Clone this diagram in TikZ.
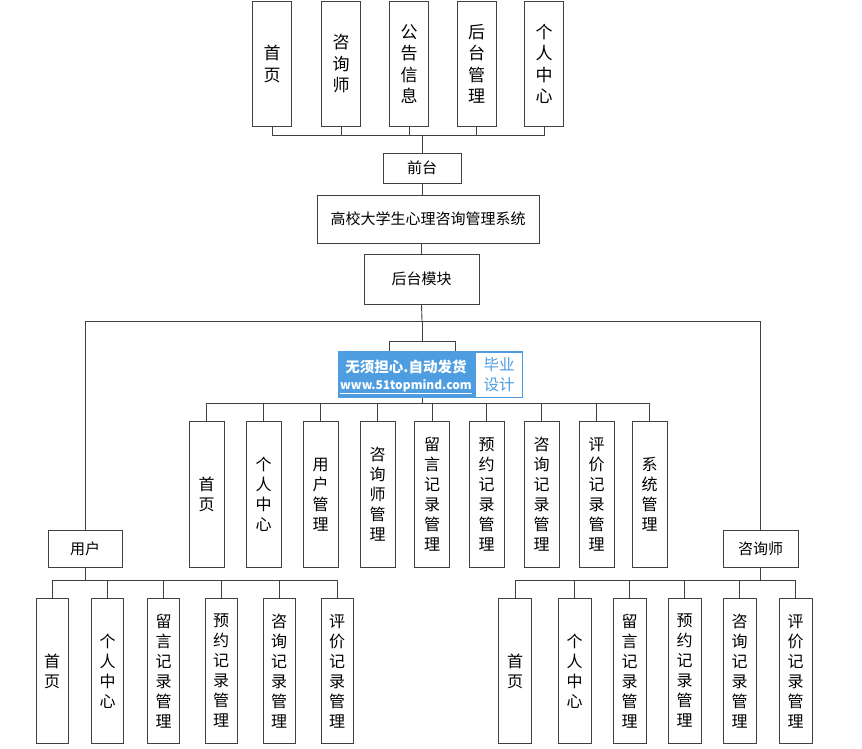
\documentclass[tikz,border=0pt]{standalone}
\usepackage{fontspec}
\newfontfamily\cjk{Noto Sans CJK SC}
\definecolor{wmblue}{RGB}{77,157,224}
\tikzset{%
  box/.style     = {shape=rectangle, draw=black!75, line width=0.9pt,%
                    fill=white, align=center, inner sep=0pt},%
  hbox/.style    = {box, font=\cjk\fontsize{15}{18}\selectfont},%
  topbox/.style  = {box, anchor=north, minimum width=39pt, minimum height=125pt,%
                    font=\cjk\fontsize{17}{21.5}\selectfont},%
  subbox/.style  = {box, anchor=north, minimum width=34pt, minimum height=146pt,%
                    font=\cjk\fontsize{16}{20}\selectfont},%
  link/.style    = {draw=black!75, line width=0.9pt}%
}

\begin{document}
\begin{tikzpicture}[x=1pt,y=-1pt]
\useasboundingbox (0,0) rectangle (862,749);
% front end
\foreach \x/\t [count=\i] in {272/首\\页, 341/咨\\询\\师, 409/公\\告\\信\\息,
    476.5/后\\台\\管\\理, 544/个\\人\\中\\心}
  \node[topbox] (top\i) at (\x,1) {\t};
\node[hbox, minimum width=78pt, minimum height=30pt] (front) at (422,168) {前台};
\node[hbox, minimum width=222pt, minimum height=48pt] (sys) at (428,219) {高校大学生心理咨询管理系统};
\node[hbox, minimum width=115pt, minimum height=50pt] (back) at (421.5,279) {后台模块};
\coordinate (fbus) at (422,135);
\draw[link] (front.north) -- (fbus);
\foreach \i in {1,...,5}
  \draw[link] (fbus) -| (top\i.south);
\draw[link] (front.south) -- (front.south |- sys.north);
\draw[link] (back.north) -- (back.north |- sys.south);
% back end
\node[hbox, minimum width=74pt, minimum height=37pt] (user) at (85,548.5) {用户};
\node[hbox, minimum width=75pt, minimum height=37pt] (couns) at (760.5,548.5) {咨询师};
\node[box, anchor=north, minimum width=66pt, minimum height=44pt] (admin) at (422,341) {};
\coordinate (bbus) at (422,321);
\draw[link] (back.south) -- (bbus);
\draw[link] (bbus) -| (user.north);
\draw[link] (bbus) -| (couns.north);
\draw[link] (bbus) -- (admin.north);
% admin
\foreach \x/\t [count=\i] in {206.5/首\\页, 263.5/个\\人\\中\\心, 320.5/用\\户\\管\\理,
    377.5/咨\\询\\师\\管\\理, 432/留\\言\\记\\录\\管\\理, 486.5/预\\约\\记\\录\\管\\理,
    541.5/咨\\询\\记\\录\\管\\理, 596.5/评\\价\\记\\录\\管\\理, 649.5/系\\统\\管\\理}
  \node[subbox, minimum width=35pt] (a\i) at (\x,421) {\t};
\coordinate (abus) at (422,403);
\draw[link] (admin.south) -- (abus);
\foreach \i in {1,...,9}
  \draw[link] (abus) -| (a\i.north);
% user
\foreach \x/\t [count=\i] in {52/首\\页, 107.5/个\\人\\中\\心, 163.5/留\\言\\记\\录\\管\\理,
    221/预\\约\\记\\录\\管\\理, 279/咨\\询\\记\\录\\管\\理, 337/评\\价\\记\\录\\管\\理}
  \node[subbox, minimum width=32pt, minimum height=145pt] (u\i) at (\x,598) {\t};
\coordinate (ubus) at (85,580);
\draw[link] (user.south) -- (ubus);
\foreach \i in {1,...,6}
  \draw[link] (ubus) -| (u\i.north);
% counsellor
\foreach \x/\t [count=\i] in {515/首\\页, 574.5/个\\人\\中\\心, 629.5/留\\言\\记\\录\\管\\理,
    684.5/预\\约\\记\\录\\管\\理, 739.5/咨\\询\\记\\录\\管\\理, 795.5/评\\价\\记\\录\\管\\理}
  \node[subbox, minimum width=33pt, minimum height=145pt] (c\i) at (\x,598) {\t};
\coordinate (cbus) at (760.5,580);
\draw[link] (couns.south) -- (cbus);
\foreach \i in {1,...,6}
  \draw[link] (cbus) -| (c\i.north);
% watermark
\node[fill=wmblue, anchor=north west, minimum width=185pt, minimum height=47pt,
  inner sep=0pt] (wm) at (338,351) {};
\node[fill=white, anchor=east, minimum width=46pt, minimum height=44pt, inner sep=0pt,
  align=center, text=wmblue, font=\cjk\fontsize{15.5}{20}\selectfont]
  (wmtag) at ([xshift=-1pt]wm.east) {毕业\\设计};
\node[text=white, font=\cjk\bfseries\fontsize{14.5}{16}\selectfont] (wmtext) at (406,367) {无须担心.自动发货};
\node[text=white, font=\cjk\bfseries\fontsize{12}{16}\selectfont] (wmurl) at (406,387) {\underline{www.51topmind.com}};
\end{tikzpicture}
\end{document}
